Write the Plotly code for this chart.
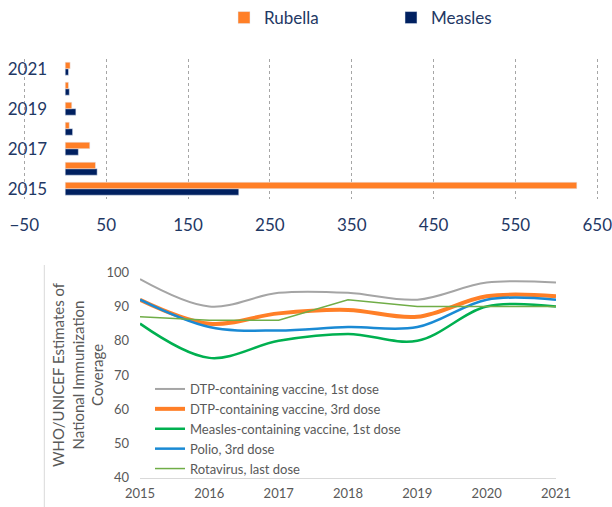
import plotly.graph_objects as go

# ---- top chart data ----
years_cat = ["2015", "2016", "2017", "2018", "2019", "2020", "2021"]
rubella = [625, 37, 30, 5, 8, 4, 6]
measles = [212, 39, 16, 9, 13, 5, 4]
top_ticks = ["2015", "2017", "2019", "2021"]
x_ticks_top = [-50, 50, 150, 250, 350, 450, 550, 650]

# ---- bottom chart data ----
years = [2015, 2016, 2017, 2018, 2019, 2020, 2021]
dtp1 = [98, 90, 94, 94, 92, 97, 97]
dtp3 = [92, 85, 88, 89, 87, 93, 93]
mcv1 = [85, 75, 80, 82, 80, 90, 90]
polio3 = [92, 84, 83, 84, 84, 92, 92]
rota = [87, 86, 86, 92, 90, 90, 90]
y_title = "WHO/UNICEF Estimates of<br>National Immunization<br>Coverage"

NAVY = "#1f3864"
GRAY = "#595959"
FONT = "Lato"

# top value axis: -50 at 24.3 px, 650 at 597.3 px; pad range a little each side
PX_PER_UNIT = (597.3 - 24.3) / 700.0
X0, X1 = -56, 656
dom_l = (24.3 - (-50 - X0) * PX_PER_UNIT) / 612
dom_r = (597.3 + (X1 - 650) * PX_PER_UNIT) / 612

fig = go.Figure()

fig.add_trace(go.Bar(y=years_cat, x=measles, orientation="h", name="Measles",
                     marker_color="#002060", xaxis="x", yaxis="y", legend="legend"))
fig.add_trace(go.Bar(y=years_cat, x=rubella, orientation="h", name="Rubella",
                     marker_color="#ff7f27", xaxis="x", yaxis="y", legend="legend"))

line_specs = [
    ("DTP-containing vaccine, 1st dose", dtp1, "#a5a5a5", 2, "spline"),
    ("DTP-containing vaccine, 3rd dose", dtp3, "#ff7f27", 4, "spline"),
    ("Measles-containing vaccine, 1st dose", mcv1, "#00b050", 2.5, "spline"),
    ("Polio, 3rd dose", polio3, "#1a8ad4", 2.5, "spline"),
    ("Rotavirus, last dose", rota, "#70ad47", 1.5, "linear"),
]
for name, vals, col, w, shape in line_specs:
    fig.add_trace(go.Scatter(x=years, y=vals, mode="lines", name=name,
                             line=dict(color=col, width=w, shape=shape, smoothing=1.0),
                             xaxis="x2", yaxis="y2", legend="legend2"))

fig.update_layout(
    width=612, height=507,
    margin=dict(l=0, r=0, t=0, b=0),
    paper_bgcolor="white", plot_bgcolor="white",
    font=dict(family=FONT, color=NAVY),
    barmode="group", bargap=0.35, bargroupgap=0,
    xaxis=dict(domain=[dom_l, dom_r], range=[X0, X1], tickvals=x_ticks_top,
               showgrid=True, gridcolor="#a6a6a6", griddash="3px,3px", gridwidth=1,
               zeroline=False, showline=False, ticks="", anchor="y", automargin=False,
               ticklabeloverflow="allow",
               tickfont=dict(size=17, color=NAVY), ticklabelstandoff=14),
    yaxis=dict(domain=[1 - 198.7 / 507, 1 - 58.7 / 507], type="category",
               categoryorder="array", categoryarray=years_cat, range=[-0.5, 6.5],
               tickvals=top_ticks, showgrid=False, zeroline=False, showline=False,
               ticks="", anchor="free", position=65.2 / 612, ticklabelstandoff=18,
               automargin=False, tickfont=dict(size=17, color=NAVY)),
    xaxis2=dict(domain=[140 / 612, 556 / 612], range=[2015, 2021], tickvals=years,
                showgrid=False, zeroline=False, showline=True, linecolor="#d9d9d9",
                linewidth=1, ticks="", anchor="y2", automargin=False,
                ticklabeloverflow="allow",
                tickfont=dict(size=13, color=GRAY), ticklabelstandoff=4),
    yaxis2=dict(domain=[1 - 477.7 / 507, 1 - 272.3 / 507], range=[40, 100], dtick=10,
                showgrid=False, zeroline=False, showline=False, ticks="", anchor="x2",
                automargin=False, tickfont=dict(size=13, color=GRAY), ticklabelstandoff=10),
    legend=dict(orientation="h", x=224 / 612, y=1 - 18 / 507, xanchor="left", yanchor="middle",
                traceorder="reversed", entrywidth=122, entrywidthmode="pixels",
                font=dict(size=17, color=NAVY, family=FONT), bgcolor="rgba(0,0,0,0)"),
    legend2=dict(x=150 / 612, y=1 - 374 / 507, xanchor="left", yanchor="top",
                 font=dict(size=13, color=GRAY, family=FONT), tracegroupgap=0,
                 bgcolor="rgba(0,0,0,0)"),
    annotations=[dict(text=y_title, xref="paper", yref="paper", x=77 / 612, y=1 - 375 / 507,
                      xanchor="center", yanchor="middle", textangle=-90, showarrow=False,
                      font=dict(size=15, color=GRAY, family=FONT))],
    shapes=[dict(type="line", xref="paper", yref="paper", x0=44.3 / 612, x1=44.3 / 612,
                 y0=0, y1=1 - 265 / 507, line=dict(color="#d9d9d9", width=1))],
    showlegend=True,
)

fig.write_html("out.html")
